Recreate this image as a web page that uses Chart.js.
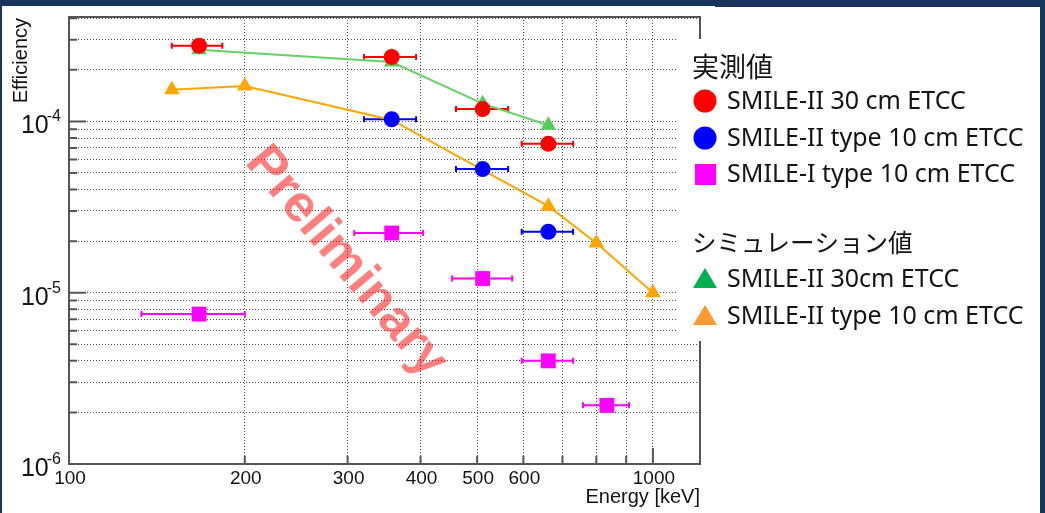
<!DOCTYPE html>
<html>
<head>
<meta charset="utf-8">
<script src="https://cdn.jsdelivr.net/npm/chart.js@4"></script>
<style>
  html, body { margin: 0; padding: 0; background: #fff; }
  #wrap { width: 1045px; height: 513px; }
</style>
</head>
<body>
<div id="wrap"><canvas id="effChart" width="1045" height="513"></canvas></div>
<script>
// ---- data (energy in keV, efficiency) ----
const red30E     = [167, 357, 511, 662];
const red30Eff   = [2.77e-4, 2.38e-4, 1.18e-4, 7.4e-5];
const red30Lo    = [150, 320, 460, 596];
const red30Hi    = [183, 393, 565, 730];
const red30EffLo = [null, 2.12e-4, null, null];
const red30EffHi = [null, 2.66e-4, null, null];

const blue10E    = [357, 511, 662];
const blue10Eff  = [1.03e-4, 5.27e-5, 2.27e-5];
const blue10Lo   = [320, 460, 596];
const blue10Hi   = [393, 565, 730];

const mag10E     = [167, 357, 511, 662, 834];
const mag10Eff   = [7.5e-6, 2.23e-5, 1.21e-5, 4.0e-6, 2.2e-6];
const mag10Lo    = [133, 308, 453, 596, 759];
const mag10Hi    = [200, 404, 574, 730, 910];

const simGreenE   = [167, 357, 511, 662];
const simGreenEff = [2.62e-4, 2.22e-4, 1.27e-4, 9.5e-5];

const simOrangeE   = [150, 200, 357, 662, 800, 1000];
const simOrangeEff = [1.53e-4, 1.61e-4, 1.02e-4, 3.2e-5, 1.95e-5, 1.0e-5];

// ---- axes ----
const xGridTicks  = [100, 200, 300, 400, 500, 600, 700, 800, 900, 1000];
const xLabelVals  = [100, 200, 300, 400, 500, 600, 1000];
const xMajor      = [100, 1000];
const yDecades    = [1e-6, 1e-5, 1e-4];
const yExpLabels  = ['-6', '-5', '-4'];
const yMantissas  = [1, 2, 3, 4, 5, 6, 7, 8, 9];

const yGridTicks = [];
yDecades.forEach(d => yMantissas.forEach(m => {
  const v = m * d;
  if (v <= 4.05e-4) yGridTicks.push(v);
}));

const navy   = '#17355c';
const frameC = '#555555';
const txtC   = '#141414';

const legendGroups = [
  { head: '実測値', y: 67, items: [
    { style: 'circle',   color: '#ff0000', label: 'SMILE-II 30 cm ETCC',      y: 101 },
    { style: 'circle',   color: '#0000ff', label: 'SMILE-II type 10 cm ETCC', y: 138 },
    { style: 'square',   color: '#ff00ff', label: 'SMILE-I type 10 cm ETCC',  y: 174 }
  ]},
  { head: 'シミュレーション値', y: 243, items: [
    { style: 'triangle', color: '#00b050', label: 'SMILE-II 30cm ETCC',       y: 279 },
    { style: 'triangle', color: '#ff9933', label: 'SMILE-II type 10 cm ETCC', y: 316 }
  ]}
];

function toXY(xs, ys) { return xs.map((x, i) => ({ x: x, y: ys[i] })); }

// error bars drawn through the chart's own scales
const errBars = [
  { color: '#ff0000', e: red30E,  v: red30Eff,  lo: red30Lo,  hi: red30Hi, vlo: red30EffLo, vhi: red30EffHi },
  { color: '#0000ff', e: blue10E, v: blue10Eff, lo: blue10Lo, hi: blue10Hi },
  { color: '#ff00ff', e: mag10E,  v: mag10Eff,  lo: mag10Lo,  hi: mag10Hi }
];

const decor = {
  id: 'decor',
  beforeDraw(chart) {
    const c = chart.ctx;
    c.save();
    c.fillStyle = navy;
    c.fillRect(0, 0, chart.width, chart.height);
    c.fillStyle = '#ffffff';
    c.fillRect(2, 6, 1038, 507);
    c.fillStyle = navy;
    c.fillRect(715, 6, 325, 1);
    c.restore();
  },
  beforeDatasetsDraw(chart) {
    const c = chart.ctx, xs = chart.scales.x, ys = chart.scales.y;
    c.save();
    c.lineWidth = 2;
    errBars.forEach(b => {
      c.strokeStyle = b.color;
      b.e.forEach((e, i) => {
        const py = ys.getPixelForValue(b.v[i]);
        const x0 = xs.getPixelForValue(b.lo[i]), x1 = xs.getPixelForValue(b.hi[i]);
        c.beginPath();
        c.moveTo(x0, py); c.lineTo(x1, py);
        c.moveTo(x0, py - 3); c.lineTo(x0, py + 3);
        c.moveTo(x1, py - 3); c.lineTo(x1, py + 3);
        if (b.vlo && b.vlo[i] != null) {
          const px = xs.getPixelForValue(e);
          c.moveTo(px, ys.getPixelForValue(b.vlo[i]));
          c.lineTo(px, ys.getPixelForValue(b.vhi[i]));
        }
        c.stroke();
      });
    });
    c.restore();
  },
  afterDatasetsDraw(chart) {
    const c = chart.ctx, xs = chart.scales.x, ys = chart.scales.y;
    const a = chart.chartArea;
    c.save();

    // frame + tick marks
    c.strokeStyle = frameC;
    c.lineWidth = 2;
    c.strokeRect(a.left, a.top, a.right - a.left, a.bottom - a.top);
    c.beginPath();
    yGridTicks.forEach(v => {
      const p = ys.getPixelForValue(v);
      const len = yDecades.includes(v) ? 17 : 8;
      c.moveTo(a.left, p); c.lineTo(a.left + len, p);
    });
    xGridTicks.forEach(v => {
      const p = xs.getPixelForValue(v);
      const len = xMajor.includes(v) ? 16 : 8;
      c.moveTo(p, a.bottom); c.lineTo(p, a.bottom - len);
    });
    c.stroke();

    // tick labels
    c.fillStyle = txtC;
    c.font = '19px "Liberation Sans", Arial, sans-serif';
    c.textAlign = 'center';
    c.textBaseline = 'alphabetic';
    xLabelVals.forEach(v => c.fillText(String(v), xs.getPixelForValue(v) + 1, a.bottom + 20));

    yDecades.forEach((v, i) => {
      const p = ys.getPixelForValue(v);
      c.textAlign = 'right';
      c.font = '16px "Liberation Sans", Arial, sans-serif';
      const ew = c.measureText(yExpLabels[i]).width;
      c.fillText(yExpLabels[i], 61, p);
      c.font = '25px "Liberation Sans", Arial, sans-serif';
      c.fillText('10', 61 - ew + 2, p + 12);
    });

    // axis titles
    c.font = '20px "Liberation Sans", Arial, sans-serif';
    c.textAlign = 'right';
    c.fillText('Energy [keV]', a.right, 503);
    c.save();
    c.translate(27, a.top + 1);
    c.rotate(-Math.PI / 2);
    c.fillText('Efficiency', 0, 0);
    c.restore();

    // watermark
    c.save();
    c.translate(346, 262);
    c.rotate(50 * Math.PI / 180);
    c.fillStyle = 'rgba(255,0,0,0.5)';
    c.font = 'bold 52px "Liberation Sans", Arial, sans-serif';
    c.textAlign = 'center';
    c.textBaseline = 'middle';
    c.fillText('Preliminary', 0, 0);
    c.restore();

    // legend panel over the right part of the frame
    c.fillStyle = '#ffffff';
    c.fillRect(676, 39, 364, 302);
    legendGroups.forEach(g => {
      c.fillStyle = txtC;
      c.textAlign = 'left';
      c.textBaseline = 'middle';
      c.font = (g.items.length === 3 ? '27px' : '24.5px') + ' "Noto Sans CJK JP", sans-serif';
      c.fillText(g.head, 692, g.y);
      g.items.forEach(it => {
        c.fillStyle = it.color;
        c.beginPath();
        if (it.style === 'circle') {
          c.arc(705, it.y, 11.5, 0, Math.PI * 2);
        } else if (it.style === 'square') {
          c.rect(695, it.y - 10, 21, 21);
        } else {
          c.moveTo(705, it.y - 11); c.lineTo(717, it.y + 9); c.lineTo(693, it.y + 9); c.closePath();
        }
        c.fill();
        c.fillStyle = txtC;
        c.font = '25px "Noto Sans", sans-serif';
        c.fillText(it.label, 727, it.y + 1);
      });
    });
    c.restore();
  }
};

new Chart(document.getElementById('effChart'), {
  type: 'scatter',
  data: {
    datasets: [
      { label: 'SMILE-II 30 cm ETCC', data: toXY(red30E, red30Eff),
        pointStyle: 'circle', pointRadius: 8, backgroundColor: '#ff0000', borderColor: '#ff0000', pointBorderWidth: 0 },
      { label: 'SMILE-II type 10 cm ETCC', data: toXY(blue10E, blue10Eff),
        pointStyle: 'circle', pointRadius: 8, backgroundColor: '#0000ff', borderColor: '#0000ff', pointBorderWidth: 0 },
      { label: 'SMILE-I type 10 cm ETCC', data: toXY(mag10E, mag10Eff),
        pointStyle: 'rect', pointRadius: 10.5, backgroundColor: '#ff00ff', borderColor: '#ff00ff', pointBorderWidth: 0 },
      { label: 'SMILE-II 30cm ETCC (sim)', data: toXY(simGreenE, simGreenEff), showLine: true,
        pointStyle: 'triangle', pointRadius: 9, backgroundColor: '#55cc55', borderColor: '#66d166',
        borderWidth: 2, pointBorderWidth: 0 },
      { label: 'SMILE-II type 10 cm ETCC (sim)', data: toXY(simOrangeE, simOrangeEff), showLine: true,
        pointStyle: 'triangle', pointRadius: 9, backgroundColor: '#ffa500', borderColor: '#ffa500',
        borderWidth: 2, pointBorderWidth: 0 }
    ]
  },
  options: {
    responsive: false,
    animation: false,
    devicePixelRatio: 1,
    layout: { padding: { left: 69, top: 17, right: 345, bottom: 49 } },
    plugins: { legend: { display: false }, tooltip: { enabled: false } },
    scales: {
      x: {
        type: 'logarithmic', min: 100, max: 1204,
        afterBuildTicks: s => { s.ticks = xGridTicks.map(v => ({ value: v })); },
        ticks: { display: false },
        grid: { color: 'rgba(0,0,0,0.7)', lineWidth: 1, drawTicks: false },
        border: { display: false, dash: [1, 2] }
      },
      y: {
        type: 'logarithmic', min: 1e-6, max: 4.07e-4,
        afterBuildTicks: s => { s.ticks = yGridTicks.map(v => ({ value: v })); },
        ticks: { display: false },
        grid: { color: 'rgba(0,0,0,0.7)', lineWidth: 1, drawTicks: false },
        border: { display: false, dash: [1, 2] }
      }
    }
  },
  plugins: [decor]
});
</script>
</body>
</html>
